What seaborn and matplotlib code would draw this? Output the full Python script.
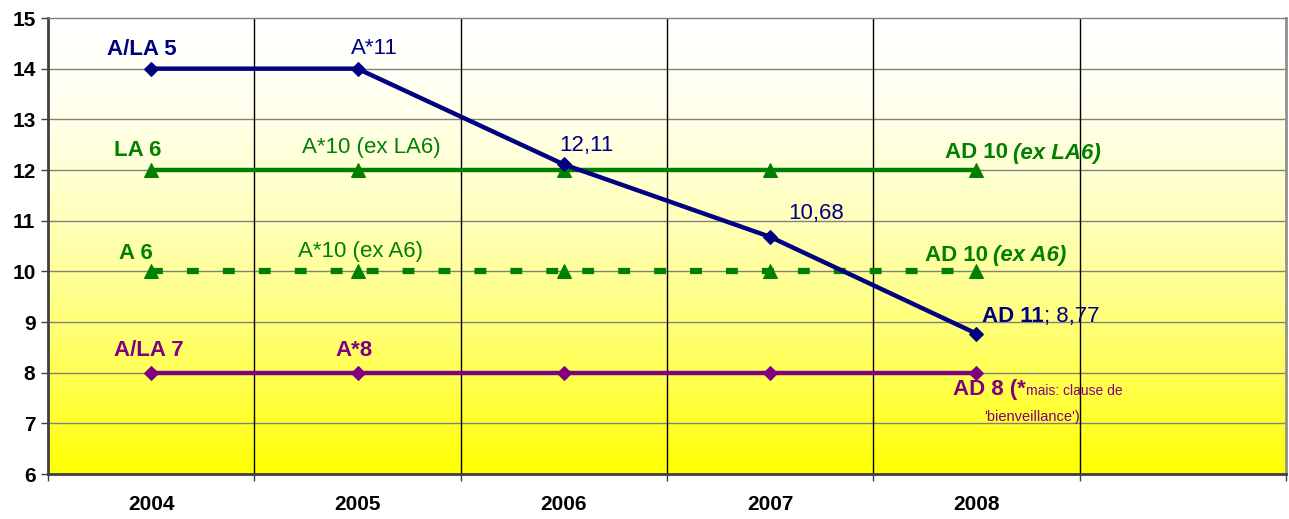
import numpy as np
import matplotlib
matplotlib.use("Agg")
import matplotlib.pyplot as plt
import seaborn as sns

sns.set_style("white")
plt.rcParams["font.family"] = ["Liberation Sans", "DejaVu Sans"]

# --- Daten ---
years = ["2004", "2005", "2006", "2007", "2008"]
navy_vals = [14, 14, 12.11, 10.68, 8.77]
green_vals = [12, 12, 12, 12, 12]
green_dash_vals = [10, 10, 10, 10, 10]
purple_vals = [8, 8, 8, 8, 8]
y_ticks = [6, 7, 8, 9, 10, 11, 12, 13, 14, 15]

NAVY, GREEN, PURPLE = "#000080", "#008000", "#800080"

# labels: (text, series, index, dx px, dy px, weight, colour)
labels = [
    ("A/LA 5", navy_vals, 0, -9, 19, "bold", NAVY),
    ("A*11", navy_vals, 1, 17, 20, "normal", NAVY),
    ("12,11", navy_vals, 2, 23, 19, "normal", NAVY),
    ("10,68", navy_vals, 3, 46, 23, "normal", NAVY),
    ("LA 6", green_vals, 0, -13, 20, "bold", GREEN),
    ("A*10 (ex LA6)", green_vals, 1, 14, 23, "normal", GREEN),
    ("A 6", green_dash_vals, 0, -15, 18, "bold", GREEN),
    ("A*10 (ex A6)", green_dash_vals, 1, 3, 20, "normal", GREEN),
    ("A/LA 7", purple_vals, 0, -2, 22, "bold", PURPLE),
    ("A*8", purple_vals, 1, -3, 22, "bold", PURPLE),
]

fig = plt.figure(figsize=(12.89, 5.19), dpi=100)
ax = fig.add_axes([48 / 1289, 1 - 474 / 519, 1238 / 1289, 456 / 519])

x = np.arange(len(years))
ax.set_xlim(-0.5, 5.5)
ax.set_ylim(6, 15)

# Hintergrund: weiss (oben) -> gelb (unten)
f = np.linspace(0, 1, 256) ** 1.6
grad = np.ones((256, 1, 3))
grad[:, 0, 2] = 1 - f
ax.imshow(grad, extent=[0, 1, 0, 1], origin="upper", transform=ax.transAxes,
          aspect="auto", zorder=0)

# Gitter
for yv in y_ticks[1:-1]:
    ax.axhline(yv, color="#808080", lw=1, zorder=1)
for xv in np.arange(0.5, 5.0, 1):
    ax.axvline(xv, color="black", lw=1, zorder=1)

lw = 3.2
sns.lineplot(x=x, y=navy_vals, color=NAVY, lw=lw, marker="D", ms=7.5,
             mec=NAVY, mfc=NAVY, ax=ax, zorder=5)
sns.lineplot(x=x, y=green_vals, color=GREEN, lw=lw, marker="^", ms=10,
             mec=GREEN, mfc=GREEN, ax=ax, zorder=4)
sns.lineplot(x=x, y=green_dash_vals, color=GREEN, lw=4.5, marker="^", ms=10,
             mec=GREEN, mfc=GREEN, linestyle=(0, (1.9, 3.85)),
             dash_capstyle="butt", ax=ax, zorder=4)
sns.lineplot(x=x, y=purple_vals, color=PURPLE, lw=lw, marker="D", ms=7.5,
             mec=PURPLE, mfc=PURPLE, ax=ax, zorder=4)

fs = 16
for txt, ser, i, dx, dy, w, c in labels:
    ax.annotate(txt, xy=(x[i], ser[i]), xytext=(dx, dy), textcoords="offset pixels",
                ha="center", va="center", fontsize=fs, fontweight=w, color=c, zorder=6)

# zusammengesetzte Beschriftungen 2008
t = ax.annotate("AD 11", xy=(x[4], navy_vals[4]), xytext=(6, 17), textcoords="offset pixels",
                ha="left", va="center", fontsize=fs, fontweight="bold", color=NAVY, zorder=6)
ax.annotate("; 8,77", xy=(1, 0), xycoords=t, ha="left", va="bottom",
            fontsize=fs, color=NAVY, zorder=6)

t = ax.annotate("AD 10", xy=(x[4], green_vals[4]), xytext=(-31, 17), textcoords="offset pixels",
                ha="left", va="center", fontsize=fs, fontweight="bold", color=GREEN, zorder=6)
ax.annotate("(ex LA6)", xy=(1, 0), xycoords=t, xytext=(5, 0), textcoords="offset pixels",
            ha="left", va="bottom", fontsize=fs, fontweight="bold", style="italic",
            color=GREEN, zorder=6)

t = ax.annotate("AD 10", xy=(x[4], green_dash_vals[4]), xytext=(-51, 16), textcoords="offset pixels",
                ha="left", va="center", fontsize=fs, fontweight="bold", color=GREEN, zorder=6)
ax.annotate("(ex A6)", xy=(1, 0), xycoords=t, xytext=(5, 0), textcoords="offset pixels",
            ha="left", va="bottom", fontsize=fs, fontweight="bold", style="italic",
            color=GREEN, zorder=6)

t = ax.annotate("AD 8 (*", xy=(x[4], purple_vals[4]), xytext=(-23, -17), textcoords="offset pixels",
                ha="left", va="center", fontsize=fs, fontweight="bold", color=PURPLE, zorder=6)
ax.annotate("mais: clause de", xy=(1, 0), xycoords=t, xytext=(0, 2), textcoords="offset pixels",
            ha="left", va="bottom", fontsize=10, color=PURPLE, zorder=6)
ax.annotate("'bienveillance')", xy=(x[4], purple_vals[4]), xytext=(8, -44), textcoords="offset pixels",
            ha="left", va="center", fontsize=10.5, color=PURPLE, zorder=6)

# Achsen
ax.set_yticks(y_ticks)
ax.set_yticklabels([str(v) for v in y_ticks], fontsize=15, fontweight="bold")
ax.tick_params(axis="y", length=5, width=1, color="#404040", labelcolor="black", pad=4, left=True)
ax.set_xticks(np.arange(-0.5, 5.6, 1))
ax.set_xticklabels([])
ax.tick_params(axis="x", which="major", length=5, width=1, color="#404040", bottom=True)
ax.set_xticks(x, minor=True)
ax.set_xticklabels(years, minor=True, fontsize=15, fontweight="bold")
ax.tick_params(axis="x", which="minor", length=0, pad=15, labelcolor="black")

for s in ["left", "bottom"]:
    ax.spines[s].set_color("#404040")
    ax.spines[s].set_linewidth(2)
ax.spines["right"].set_color("#909090")
ax.spines["right"].set_linewidth(2)
ax.spines["top"].set_color("#808080")
ax.spines["top"].set_linewidth(1)
ax.set_xlabel("")
ax.set_ylabel("")

fig.savefig("out.png", dpi=100)
